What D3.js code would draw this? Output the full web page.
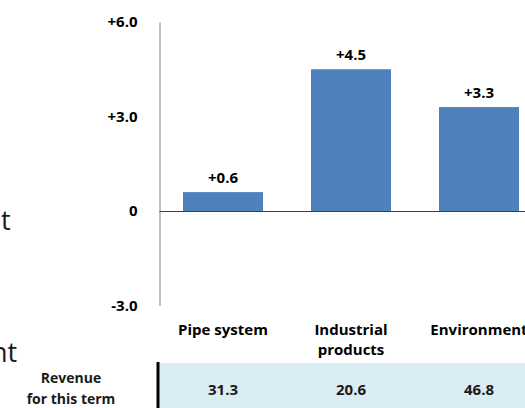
<!DOCTYPE html>
<html lang="en">
<head>
    <meta charset="UTF-8">
    <title>Revenue change by segment</title>
    <style>
        body { margin: 0; background: #fff; }
        svg { display: block; }
    </style>
</head>
<body>
    <script src="https://cdn.jsdelivr.net/npm/d3@7"></script>
    <script>
        // data
        var categories = ["Pipe system", "Industrial\nproducts", "Environment"];
        var changes = [0.6, 4.5, 3.3];
        var revenue = [31.3, 20.6, 46.8];
        var yTicks = [6, 3, 0, -3];
        var rowLabel = ["Revenue", "for this term"];

        var W = 525, H = 408;
        var font = "'Open Sans', sans-serif";

        var svg = d3.select("body").append("svg")
            .attr("width", W)
            .attr("height", H);

        // scales
        var y = d3.scaleLinear().domain([-3, 6]).range([305.5, 22]);

        var x = d3.scaleBand()
            .domain(categories)
            .range([159, 543])
            .paddingInner(0.375)
            .paddingOuter(0.1875);

        // clipped text fragments from the panel on the left
        svg.append("text")
            .attr("x", 1).attr("y", 230)
            .style("font", "27px 'Open Sans', sans-serif")
            .style("fill", "#1a1a1a")
            .text("t");

        svg.append("text")
            .attr("x", -9).attr("y", 362)
            .style("font", "27px 'Open Sans', sans-serif")
            .style("fill", "#1a1a1a")
            .text("nt");

        // y axis
        var yAxis = d3.axisLeft(y)
            .tickValues(yTicks)
            .tickSize(0)
            .tickPadding(22)
            .tickFormat(function (d) {
                if (d === 0) return "0";
                return (d > 0 ? "+" : "-") + Math.abs(d).toFixed(1);
            });

        var gy = svg.append("g")
            .attr("transform", "translate(159.5,0)")
            .call(yAxis);
        gy.select(".domain").attr("stroke", "#808080");
        gy.selectAll(".tick text")
            .style("font", "bold 15px " + font)
            .style("fill", "#000");

        // bars
        svg.selectAll("rect.bar")
            .data(changes)
            .enter().append("rect")
            .attr("class", "bar")
            .attr("x", function (d, i) { return x(categories[i]); })
            .attr("width", x.bandwidth())
            .attr("y", function (d) { return y(d); })
            .attr("height", function (d) { return y(0) - y(d); })
            .style("fill", "#4f81bd");

        // zero line
        svg.append("line")
            .attr("x1", 159.5).attr("x2", W)
            .attr("y1", Math.round(y(0)) + 0.5).attr("y2", Math.round(y(0)) + 0.5)
            .attr("stroke", "#404040");

        // value labels
        svg.selectAll("text.val")
            .data(changes)
            .enter().append("text")
            .attr("class", "val")
            .attr("x", function (d, i) { return x(categories[i]) + x.bandwidth() / 2; })
            .attr("y", function (d) { return y(d) - 9; })
            .attr("text-anchor", "middle")
            .style("font", "bold 15px " + font)
            .text(function (d) { return "+" + d.toFixed(1); });

        // category labels
        var cat = svg.selectAll("text.cat")
            .data(categories)
            .enter().append("text")
            .attr("class", "cat")
            .attr("text-anchor", "middle")
            .attr("x", function (d) { return x(d) + x.bandwidth() / 2; })
            .attr("y", 335)
            .style("font", "bold 15px " + font);
        cat.selectAll("tspan")
            .data(function (d) { return d.split("\n"); })
            .enter().append("tspan")
            .attr("x", function () { return d3.select(this.parentNode).attr("x"); })
            .attr("dy", function (d, i) { return i === 0 ? 0 : 20; })
            .text(function (d) { return d; });

        // revenue row
        svg.append("rect")
            .attr("x", 159).attr("y", 363)
            .attr("width", W - 159).attr("height", H - 363)
            .style("fill", "#daedf3");
        svg.append("line")
            .attr("x1", 158).attr("x2", 158)
            .attr("y1", 362).attr("y2", H)
            .attr("stroke", "#000").attr("stroke-width", 3);

        svg.selectAll("text.rev")
            .data(revenue)
            .enter().append("text")
            .attr("class", "rev")
            .attr("x", function (d, i) { return x(categories[i]) + x.bandwidth() / 2; })
            .attr("y", 395)
            .attr("text-anchor", "middle")
            .style("font", "bold 15px " + font)
            .style("fill", "#1a1a1a")
            .text(function (d) { return d.toFixed(1); });

        svg.selectAll("text.rowlab")
            .data(rowLabel)
            .enter().append("text")
            .attr("class", "rowlab")
            .attr("x", 71)
            .attr("y", function (d, i) { return 383 + i * 21; })
            .attr("text-anchor", "middle")
            .style("font", "bold 14px " + font)
            .style("fill", "#1a1a1a")
            .text(function (d) { return d; });
    </script>
</body>
</html>
